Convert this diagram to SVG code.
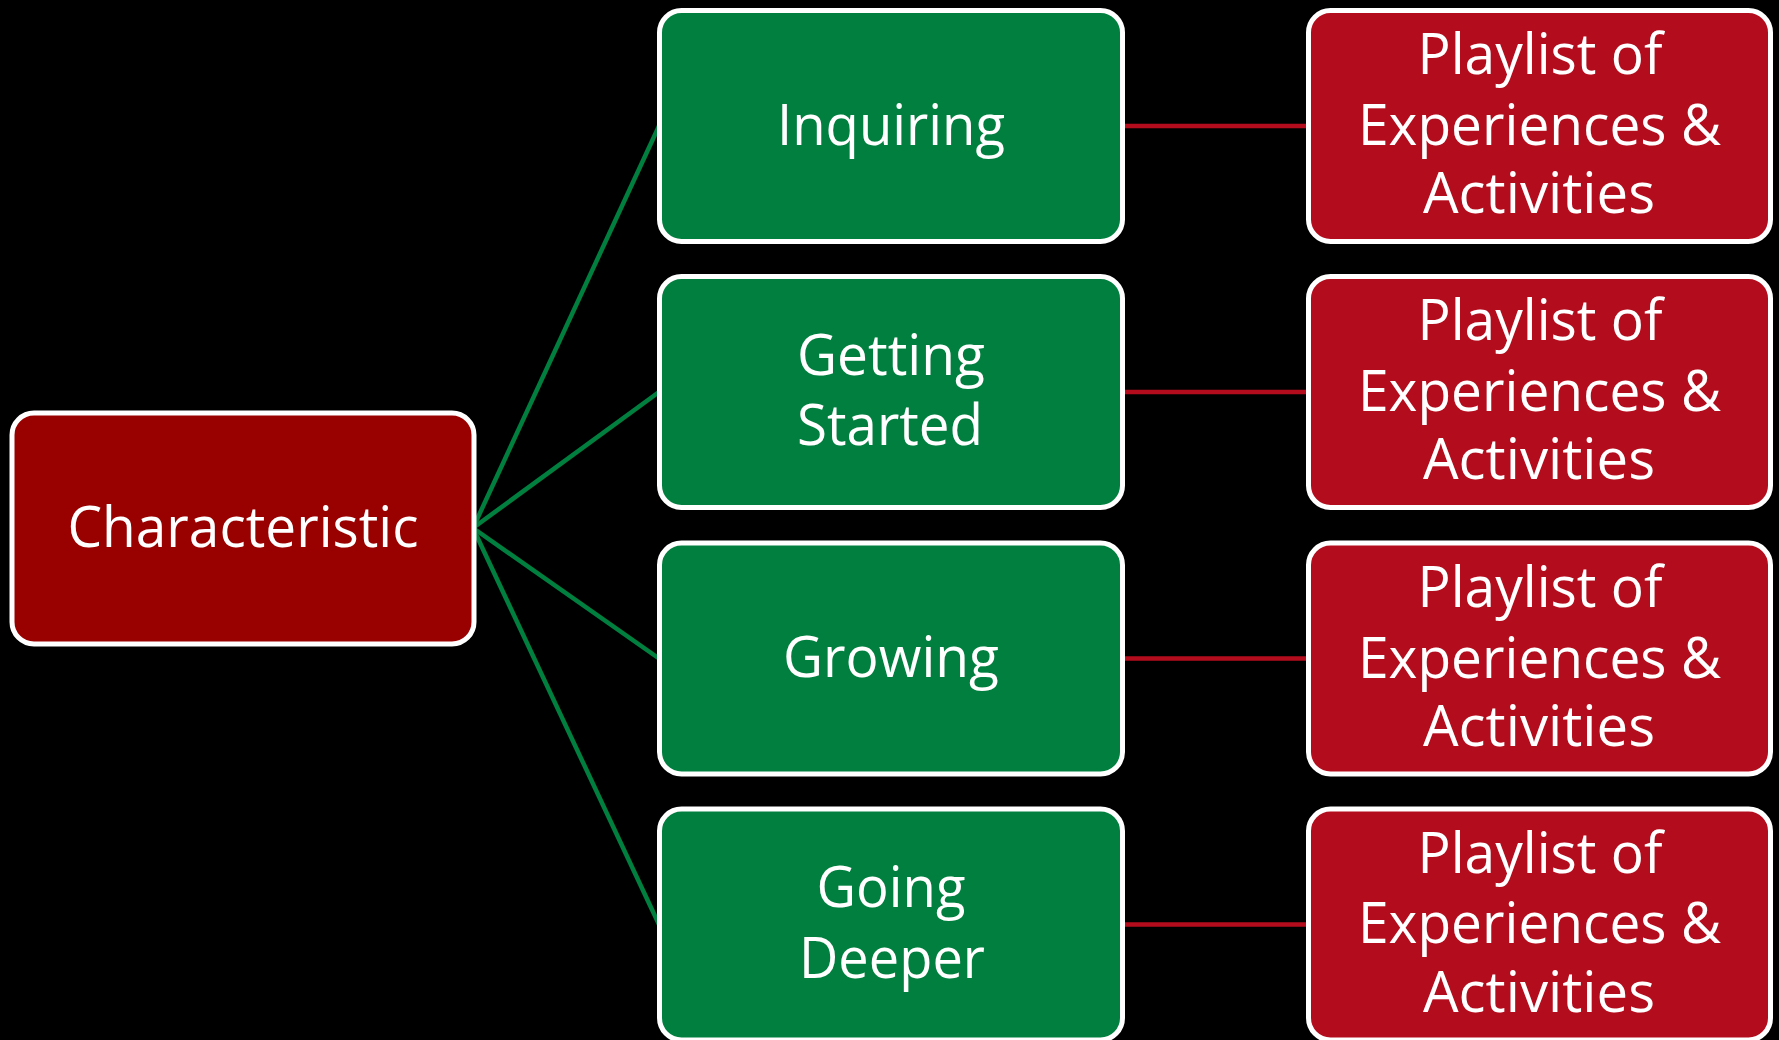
<svg xmlns="http://www.w3.org/2000/svg" width="1779" height="1040" viewBox="0 0 1779 1040">
<style>
.box{stroke:#ffffff;stroke-width:5}
.root{fill:#990000}
.green{fill:#007F3F}
.red{fill:#B30C1D}
.t{font-family:"Open Sans","Noto Sans","Liberation Sans",sans-serif;font-size:56px;fill:#ffffff;text-anchor:middle}
.gl{stroke:#007F3F;stroke-width:4.5;fill:none}
.rl{stroke:#B30C1D;stroke-width:4.5;fill:none}
</style>
<rect width="1779" height="1040" fill="#000000"/>
<g id="connectors">
<line class="gl" x1="473" y1="528" x2="659" y2="126"/>
<line class="gl" x1="473" y1="528" x2="659" y2="392"/>
<line class="gl" x1="473" y1="528" x2="659" y2="658.5"/>
<line class="gl" x1="473" y1="528" x2="659" y2="924.5"/>
<line class="rl" x1="1123" y1="126" x2="1308" y2="126"/>
<line class="rl" x1="1123" y1="392" x2="1308" y2="392"/>
<line class="rl" x1="1123" y1="658.5" x2="1308" y2="658.5"/>
<line class="rl" x1="1123" y1="924.5" x2="1308" y2="924.5"/>
</g>
<g id="characteristic">
<rect class="box root" x="12" y="413" width="462" height="231" rx="22"/>
<text class="t" x="243" y="547" textLength="351" lengthAdjust="spacingAndGlyphs">Characteristic</text>
</g>
<g id="inquiring">
<rect class="box green" x="659.5" y="10.5" width="463" height="231" rx="22"/>
<text class="t" x="891" y="145" textLength="228" lengthAdjust="spacingAndGlyphs">Inquiring</text>
</g>
<g id="getting-started">
<rect class="box green" x="659.5" y="276.5" width="463" height="231" rx="22"/>
<text class="t" x="891" y="375" textLength="188" lengthAdjust="spacingAndGlyphs">Getting</text>
<text class="t" x="890" y="445" textLength="186" lengthAdjust="spacingAndGlyphs">Started</text>
</g>
<g id="growing">
<rect class="box green" x="659.5" y="543" width="463" height="231" rx="22"/>
<text class="t" x="891" y="677" textLength="216" lengthAdjust="spacingAndGlyphs">Growing</text>
</g>
<g id="going-deeper">
<rect class="box green" x="659.5" y="809" width="463" height="231" rx="22"/>
<text class="t" x="891" y="907" textLength="149" lengthAdjust="spacingAndGlyphs">Going</text>
<text class="t" x="892" y="978" textLength="186" lengthAdjust="spacingAndGlyphs">Deeper</text>
</g>
<g id="playlist-1">
<rect class="box red" x="1308.5" y="10.5" width="462" height="231" rx="22"/>
<text class="t" x="1540" y="74" textLength="245" lengthAdjust="spacingAndGlyphs">Playlist of</text>
<text class="t" x="1539.5" y="145" textLength="363" lengthAdjust="spacingAndGlyphs">Experiences &amp;</text>
<text class="t" x="1539" y="213" textLength="232" lengthAdjust="spacingAndGlyphs">Activities</text>
</g>
<g id="playlist-2">
<rect class="box red" x="1308.5" y="276.5" width="462" height="231" rx="22"/>
<text class="t" x="1540" y="340" textLength="245" lengthAdjust="spacingAndGlyphs">Playlist of</text>
<text class="t" x="1539.5" y="411" textLength="363" lengthAdjust="spacingAndGlyphs">Experiences &amp;</text>
<text class="t" x="1539" y="479" textLength="232" lengthAdjust="spacingAndGlyphs">Activities</text>
</g>
<g id="playlist-3">
<rect class="box red" x="1308.5" y="543" width="462" height="231" rx="22"/>
<text class="t" x="1540" y="606.5" textLength="245" lengthAdjust="spacingAndGlyphs">Playlist of</text>
<text class="t" x="1539.5" y="677.5" textLength="363" lengthAdjust="spacingAndGlyphs">Experiences &amp;</text>
<text class="t" x="1539" y="745.5" textLength="232" lengthAdjust="spacingAndGlyphs">Activities</text>
</g>
<g id="playlist-4">
<rect class="box red" x="1308.5" y="809" width="462" height="231" rx="22"/>
<text class="t" x="1540" y="873" textLength="245" lengthAdjust="spacingAndGlyphs">Playlist of</text>
<text class="t" x="1539.5" y="943" textLength="363" lengthAdjust="spacingAndGlyphs">Experiences &amp;</text>
<text class="t" x="1539" y="1012" textLength="232" lengthAdjust="spacingAndGlyphs">Activities</text>
</g>
</svg>
